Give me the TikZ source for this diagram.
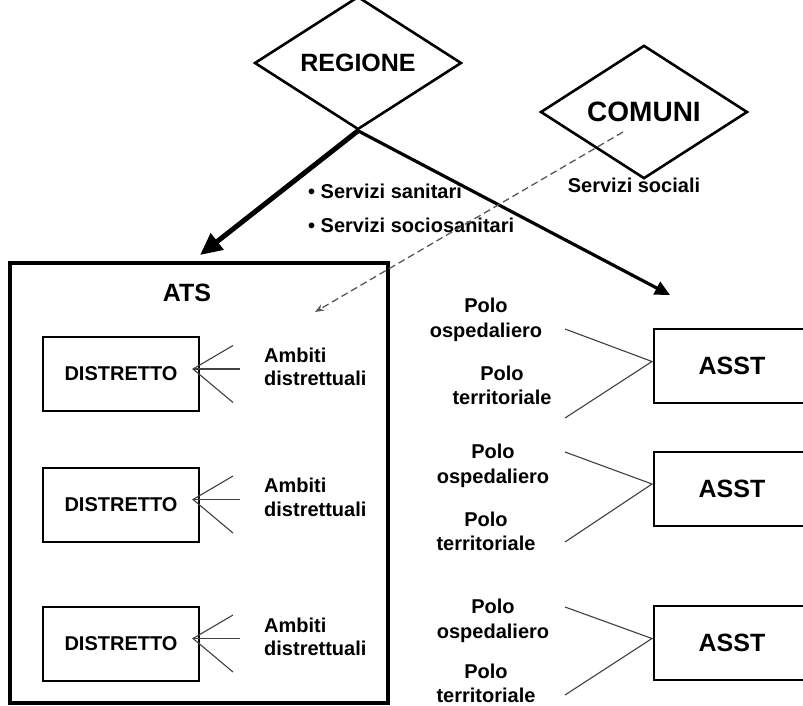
\documentclass[tikz,border=0pt]{standalone}
\usepackage{fontspec}
\setmainfont{Liberation Sans}
\usetikzlibrary{arrows.meta,shapes.geometric,calc}
\begin{document}
\begin{tikzpicture}[x=1pt,y=-1pt,
  txt/.style={font=\fontsize{20}{24}\selectfont\bfseries, inner sep=0pt},
  bigtxt/.style={font=\fontsize{25}{30}\selectfont\bfseries, inner sep=0pt},
  dia/.style={diamond, draw, line width=2.6pt, inner sep=0pt, minimum width=207pt, minimum height=106pt},
  distbox/.style={draw, line width=2pt, minimum width=156pt, minimum height=74pt, inner sep=0pt, font=\fontsize{20}{24}\selectfont\bfseries},
  asstbox/.style={draw, line width=2pt, minimum width=156pt, minimum height=74pt, inner sep=0pt, text width=156pt, align=center, font=\fontsize{25}{30}\selectfont\bfseries},
  fan/.style={draw=black!75, line width=1.1pt},
  thickarrow/.style={line width=5pt, -{Triangle[length=22pt,width=20pt]}},
  midarrow/.style={line width=3.2pt, -{Triangle[length=15pt,width=14pt]}},
  dasharrow/.style={draw=black!65, line width=1.3pt, dash pattern=on 7pt off 4pt, -{Stealth[length=9pt,width=7pt]}}
]
\clip (0,0) rectangle (803,706);
\fill[white] (0,0) rectangle (803,706);

% top diamonds
\node[dia, font=\fontsize{25}{30}\selectfont\bfseries] (reg) at (358,63) {REGIONE};
\node[dia, font=\fontsize{28}{32}\selectfont\bfseries] (com) at (644,112) {COMUNI};
\node[txt] (soc) at (634,185) {Servizi sociali};
\node[txt, anchor=west, align=left, font=\fontsize{20}{34}\selectfont\bfseries] (serv) at (308,208) {\textbullet{} Servizi sanitari\\\textbullet{} Servizi sociosanitari};

% ATS container
\node[draw, line width=4pt, minimum width=378pt, minimum height=440pt, inner sep=0pt] (ats) at (199,483) {};
\node[bigtxt] (atstitle) at (187,293) {ATS};

% arrows from REGIONE and COMUNI
\coordinate (lt) at (200,255);
\coordinate (rt) at (670,295);
\coordinate (cs) at (623,132);
\coordinate (ce) at (315,312);
\draw[thickarrow] (reg.south) -- (lt);
\draw[midarrow] (reg.south) -- (rt);
\draw[dasharrow] (cs) -- (ce);

% Distretti
\foreach \i/\y in {1/374, 2/504.5, 3/643.5}{
  \node[distbox] (d\i) at (121,\y) {DISTRETTO};
  \coordinate (dc\i) at ($(d\i.east)+(-7,-5)$);
  \coordinate (du\i) at ($(d\i.east)+(33,-28.5)$);
  \coordinate (dm\i) at ($(d\i.east)+(40,-5)$);
  \coordinate (dl\i) at ($(d\i.east)+(33,28.5)$);
  \draw[fan] (du\i) -- (dc\i) -- (dl\i);
  \draw[fan] (dm\i) -- (dc\i);
}
\node[txt, anchor=west, align=left, font=\fontsize{20}{23.5}\selectfont\bfseries] (a1) at (264,367) {Ambiti\\distrettuali};
\node[txt, anchor=west, align=left, font=\fontsize{20}{23.5}\selectfont\bfseries] (a2) at (264,497.5) {Ambiti\\distrettuali};
\node[txt, anchor=west, align=left, font=\fontsize{20}{23.5}\selectfont\bfseries] (a3) at (264,637) {Ambiti\\distrettuali};

% ASST
\foreach \i/\y/\u/\l in {1/366/-37/52, 2/488.5/-36.5/53.5, 3/643/-36/52}{
  \node[asstbox] (s\i) at (732,\y) {ASST};
  \coordinate (sc\i) at ($(s\i.west)+(-1,-4.5)$);
  \coordinate (su\i) at ($(s\i.west)+(-88,\u)$);
  \coordinate (sl\i) at ($(s\i.west)+(-88,\l)$);
  \draw[fan] (su\i) -- (sc\i) -- (sl\i);
}
\node[txt, align=center, font=\fontsize{20}{25}\selectfont\bfseries] (po1) at (486,320) {Polo\\ospedaliero};
\node[txt, align=center, font=\fontsize{20}{24}\selectfont\bfseries] (pt1) at (502,385) {Polo\\territoriale};
\node[txt, align=center, font=\fontsize{20}{25}\selectfont\bfseries] (po2) at (493,466) {Polo\\ospedaliero};
\node[txt, align=center, font=\fontsize{20}{24}\selectfont\bfseries] (pt2) at (486,531) {Polo\\territoriale};
\node[txt, align=center, font=\fontsize{20}{25}\selectfont\bfseries] (po3) at (493,621) {Polo\\ospedaliero};
\node[txt, align=center, font=\fontsize{20}{24}\selectfont\bfseries] (pt3) at (486,683) {Polo\\territoriale};
\end{tikzpicture}
\end{document}
